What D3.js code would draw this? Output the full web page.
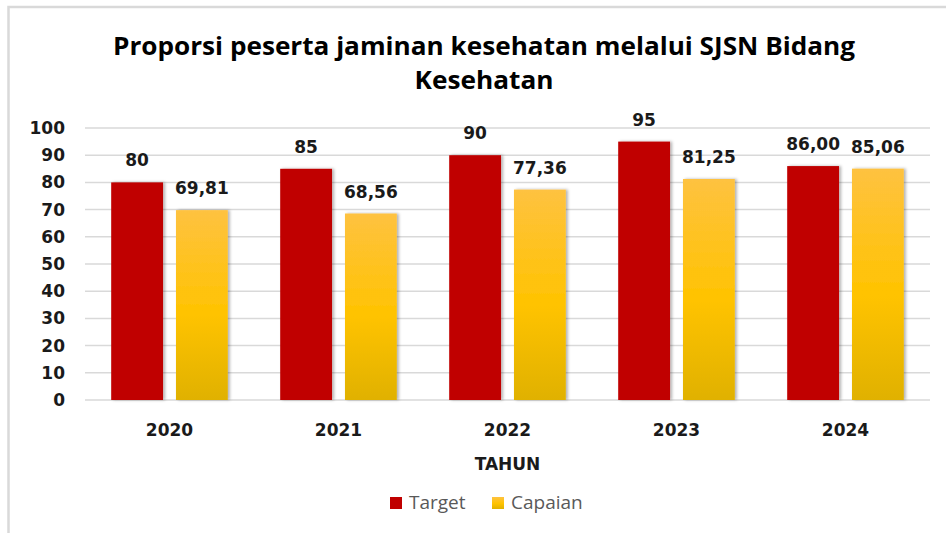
<!DOCTYPE html>
<html>
<head>
<meta charset="utf-8">
<script src="https://cdn.jsdelivr.net/npm/d3@7"></script>
<style>
  body { margin: 0; background: #fff; }
  svg { display: block; }
</style>
</head>
<body>
<div id="wrapper"></div>
<script>
// data
const years = ["2020", "2021", "2022", "2023", "2024"];
const target = [80, 85, 90, 95, 86.00];
const capaian = [69.81, 68.56, 77.36, 81.25, 85.06];
const targetLabels = ["80", "85", "90", "95", "86,00"];
const capaianLabels = ["69,81", "68,56", "77,36", "81,25", "85,06"];
const seriesNames = ["Target", "Capaian"];
const yTicks = [0, 10, 20, 30, 40, 50, 60, 70, 80, 90, 100];

function drawChart() {
    let dimensions = {
        width: 946,
        height: 533,
        margin: { top: 128, right: 16, bottom: 133, left: 85 },
    };
    dimensions.boundedWidth = dimensions.width - dimensions.margin.left - dimensions.margin.right;
    dimensions.boundedHeight = dimensions.height - dimensions.margin.top - dimensions.margin.bottom;

    const svg = d3.select("#wrapper").append("svg")
        .attr("width", dimensions.width)
        .attr("height", dimensions.height);

    const defs = svg.append("defs");
    const grad = defs.append("linearGradient")
        .attr("id", "goldGrad")
        .attr("x1", 0).attr("y1", 0).attr("x2", 0).attr("y2", 1);
    grad.append("stop").attr("offset", "0%").attr("stop-color", "#FEC240");
    grad.append("stop").attr("offset", "55%").attr("stop-color", "#FFC300");
    grad.append("stop").attr("offset", "100%").attr("stop-color", "#E0B100");

    const shadow = defs.append("filter").attr("id", "shadow")
        .attr("x", "-20%").attr("y", "-5%").attr("width", "150%").attr("height", "110%");
    shadow.append("feDropShadow")
        .attr("dx", 2).attr("dy", 0).attr("stdDeviation", 1.8)
        .attr("flood-color", "#000").attr("flood-opacity", 0.3);

    // outer chart border
    svg.append("rect")
        .attr("x", 8.5).attr("y", 7)
        .attr("width", 1000).attr("height", 600)
        .attr("fill", "#fff")
        .attr("stroke", "#D9D9D9").attr("stroke-width", 2.5);

    // title
    const title = svg.append("text")
        .attr("text-anchor", "middle")
        .attr("font-family", "'Liberation Sans Narrow', 'Open Sans', sans-serif")
        .attr("font-weight", "bold")
        .attr("font-size", 25)
        .attr("fill", "#000");
    const line1 = title.append("tspan").attr("x", 484).attr("y", 55)
        .text("Proporsi peserta jaminan kesehatan melalui SJSN Bidang");
    const line2 = title.append("tspan").attr("x", 484).attr("y", 89)
        .text("Kesehatan");
    [[line1, 742], [line2, 139]].forEach(([t, w]) => {
        const len = t.node().getComputedTextLength();
        if (Math.abs(len - w) / w > 0.02) {
            t.attr("textLength", w).attr("lengthAdjust", "spacingAndGlyphs");
        }
    });

    const bounds = svg.append("g")
        .attr("transform", `translate(${dimensions.margin.left},${dimensions.margin.top})`);

    // scales
    const yScale = d3.scaleLinear()
        .domain([0, 100])
        .range([dimensions.boundedHeight, 0]);

    const x0 = d3.scaleBand()
        .domain(years)
        .range([0, dimensions.boundedWidth])
        .paddingInner(0.31)
        .paddingOuter(0.155);

    const x1 = d3.scaleBand()
        .domain(seriesNames)
        .range([0, x0.bandwidth()])
        .paddingInner(0.2);

    // gridlines
    bounds.append("g")
        .selectAll("line")
        .data(yTicks)
        .join("line")
        .attr("x1", 0).attr("x2", dimensions.boundedWidth)
        .attr("y1", d => yScale(d)).attr("y2", d => yScale(d))
        .attr("stroke", "#D9D9D9").attr("stroke-width", 1.5);

    // y axis labels
    const yAxis = d3.axisLeft(yScale).tickValues(yTicks).tickSize(0).tickPadding(20);
    const yAxisG = bounds.append("g").call(yAxis);
    yAxisG.select(".domain").remove();
    yAxisG.selectAll("text")
        .attr("font-family", "'DejaVu Sans', sans-serif")
        .attr("font-weight", "bold")
        .attr("font-size", 17)
        .attr("fill", "#1a1a1a");

    // x axis labels
    const xAxis = d3.axisBottom(x0).tickSize(0).tickPadding(24);
    const xAxisG = bounds.append("g")
        .attr("transform", `translate(0,${dimensions.boundedHeight})`)
        .call(xAxis);
    xAxisG.select(".domain").remove();
    xAxisG.selectAll("text")
        .attr("font-family", "'DejaVu Sans', sans-serif")
        .attr("font-weight", "bold")
        .attr("font-size", 17)
        .attr("fill", "#1a1a1a");

    // bars
    const rows = years.map((y, i) => ({
        year: y,
        values: [
            { key: "Target", value: target[i], label: targetLabels[i] },
            { key: "Capaian", value: capaian[i], label: capaianLabels[i] },
        ],
    }));
    const fills = { Target: "#C00000", Capaian: "url(#goldGrad)" };

    const groups = bounds.selectAll(".grp")
        .data(rows)
        .join("g")
        .attr("class", "grp")
        .attr("transform", d => `translate(${x0(d.year)},0)`);

    groups.selectAll("rect")
        .data(d => d.values)
        .join("rect")
        .attr("x", d => x1(d.key))
        .attr("y", d => yScale(d.value))
        .attr("width", x1.bandwidth())
        .attr("height", d => dimensions.boundedHeight - yScale(d.value))
        .attr("fill", d => fills[d.key])
        .attr("filter", "url(#shadow)");

    groups.selectAll("text.lbl")
        .data(d => d.values)
        .join("text")
        .attr("class", "lbl")
        .attr("x", d => x1(d.key) + x1.bandwidth() / 2)
        .attr("y", d => yScale(d.value) - 16)
        .attr("text-anchor", "middle")
        .attr("font-family", "'DejaVu Sans', sans-serif")
        .attr("font-weight", "bold")
        .attr("font-size", 17)
        .attr("fill", "#1a1a1a")
        .text(d => d.label);

    // axis title
    svg.append("text")
        .attr("x", dimensions.margin.left + dimensions.boundedWidth / 2)
        .attr("y", 470)
        .attr("text-anchor", "middle")
        .attr("font-family", "'DejaVu Sans', sans-serif")
        .attr("font-weight", "bold")
        .attr("font-size", 17)
        .attr("fill", "#1a1a1a")
        .text("TAHUN");

    // legend
    const legendItems = [
        { name: "Target", fill: "#C00000", x: 390 },
        { name: "Capaian", fill: "url(#goldGrad)", x: 492 },
    ];
    const legend = svg.append("g");
    legend.selectAll("rect")
        .data(legendItems)
        .join("rect")
        .attr("x", d => d.x).attr("y", 497)
        .attr("width", 12).attr("height", 12)
        .attr("fill", d => d.fill);
    legend.selectAll("text")
        .data(legendItems)
        .join("text")
        .attr("x", d => d.x + 19).attr("y", 509)
        .attr("font-family", "'Open Sans', sans-serif")
        .attr("font-size", 19)
        .attr("fill", "#595959")
        .text(d => d.name);
}
drawChart();
</script>
</body>
</html>
